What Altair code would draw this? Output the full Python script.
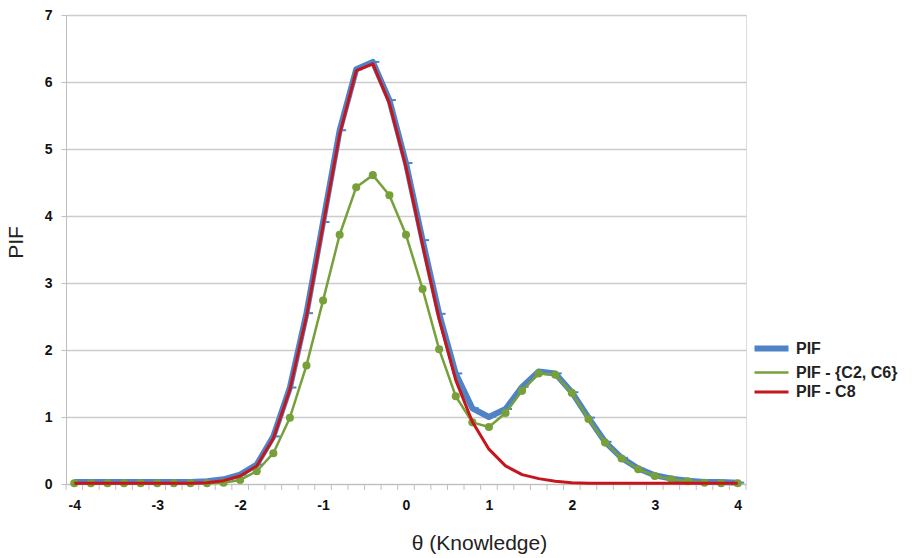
import altair as alt
import pandas as pd

theta = [-4.0, -3.8, -3.6, -3.4, -3.2, -3.0, -2.8, -2.6, -2.4, -2.2, -2.0,
         -1.8, -1.6, -1.4, -1.2, -1.0, -0.8, -0.6, -0.4, -0.2, 0.0,
         0.2, 0.4, 0.6, 0.8, 1.0, 1.2, 1.4, 1.6, 1.8, 2.0,
         2.2, 2.4, 2.6, 2.8, 3.0, 3.2, 3.4, 3.6, 3.8, 4.0]

pif = [0.03, 0.03, 0.03, 0.03, 0.03, 0.03, 0.03, 0.03, 0.04, 0.07, 0.14,
       0.29, 0.71, 1.44, 2.55, 3.91, 5.28, 6.19, 6.30, 5.73, 4.79,
       3.64, 2.54, 1.65, 1.13, 1.00, 1.12, 1.45, 1.68, 1.65, 1.37,
       0.99, 0.63, 0.39, 0.23, 0.13, 0.08, 0.05, 0.03, 0.03, 0.02]

pif_c2c6 = [0.01, 0.01, 0.01, 0.01, 0.01, 0.01, 0.01, 0.01, 0.01, 0.02, 0.06,
            0.19, 0.46, 0.99, 1.77, 2.74, 3.72, 4.43, 4.61, 4.31, 3.72,
            2.91, 2.01, 1.31, 0.92, 0.85, 1.06, 1.39, 1.65, 1.63, 1.36,
            0.97, 0.62, 0.38, 0.22, 0.12, 0.07, 0.04, 0.02, 0.01, 0.01]

pif_c8 = [0.01, 0.01, 0.01, 0.01, 0.01, 0.01, 0.01, 0.01, 0.02, 0.05, 0.12,
          0.27, 0.68, 1.41, 2.50, 3.86, 5.22, 6.17, 6.27, 5.68, 4.73,
          3.57, 2.46, 1.55, 0.93, 0.52, 0.27, 0.14, 0.08, 0.04, 0.02,
          0.01, 0.01, 0.01, 0.01, 0.01, 0.01, 0.01, 0.01, 0.01, 0.01]

series_names = ["PIF", "PIF - {C2, C6}", "PIF - C8"]
series_colors = ["#4f83c6", "#77a03a", "#c4161c"]
series_widths = [6, 2.5, 3]

x_labels = [-4, -3, -2, -1, 0, 1, 2, 3, 4]
y_labels = [0, 1, 2, 3, 4, 5, 6, 7]

rows = []
for name, vals in zip(series_names, [pif, pif_c2c6, pif_c8]):
    for t, v in zip(theta, vals):
        rows.append({"theta": t, "value": v, "series": name})
df = pd.DataFrame(rows)

# category boundaries (tick marks between categories)
step = theta[1] - theta[0]
bounds = pd.DataFrame({"b": [t - step / 2 for t in theta] + [theta[-1] + step / 2]})

W, H = 680, 469

xscale = alt.Scale(domain=[theta[0] - step / 2, theta[-1] + step / 2], nice=False, zero=False)
yscale = alt.Scale(domain=[0, 7], nice=False)

leg = dict(title=None, orient="none", legendX=694, legendY=322,
           symbolType="M-2,0L2,0", symbolSize=289,
           labelFontSize=16, labelFontWeight="bold",
           labelColor="#222222", labelFont="Liberation Sans",
           rowPadding=1.5, labelOffset=13)

color = alt.Color("series:N", scale=alt.Scale(domain=series_names, range=series_colors),
                  legend=alt.Legend(**leg))
swidth = alt.StrokeWidth("series:N",
                         scale=alt.Scale(type="ordinal", domain=series_names, range=series_widths),
                         legend=alt.Legend(**leg))

xenc = alt.X("theta:Q", scale=xscale,
             axis=alt.Axis(values=x_labels, labelExpr="toString(datum.value)", ticks=False, grid=False,
                           domainColor="#bfbfbf",
                           labelFontSize=14, labelFontWeight="bold", labelColor="#111111",
                           labelPadding=14, labelFlush=False,
                           title="θ (Knowledge)", titleFontSize=21, titleFontWeight="normal",
                           titleColor="#222222", titleX=413, titleY=59,
                           titleBaseline="middle", titleAlign="center"))
yenc = alt.Y("value:Q", scale=yscale,
             axis=alt.Axis(values=y_labels, labelExpr="toString(datum.value)", grid=True,
                           gridColor="#cccccc", gridWidth=1.3,
                           tickSize=5, tickColor="#bfbfbf", domainColor="#bfbfbf",
                           labelFontSize=14, labelFontWeight="bold", labelColor="#111111",
                           labelPadding=9,
                           title="PIF", titleFontSize=21, titleFontWeight="normal",
                           titleColor="#222222", titleX=-50, titleY=227,
                           titleBaseline="middle", titleAlign="center", titleAngle=-90))

base = alt.Chart(df)

minor_ticks = alt.Chart(bounds).mark_rule(color="#bfbfbf", strokeWidth=1).encode(
    x=alt.X("b:Q", scale=xscale), y=alt.value(H), y2=alt.value(H + 6))

blue_line = base.transform_filter(alt.datum.series == series_names[0]).mark_line(
    strokeJoin="round").encode(x=xenc, y=yenc, color=color, strokeWidth=swidth)
blue_dash = base.transform_filter(alt.datum.series == series_names[0]).mark_tick(
    orient="horizontal", size=7, thickness=2, xOffset=3, color=series_colors[0], opacity=1).encode(
    x="theta:Q", y="value:Q")
green_line = base.transform_filter(alt.datum.series == series_names[1]).mark_line(
    strokeJoin="round").encode(x="theta:Q", y="value:Q", color=color, strokeWidth=swidth)
green_pts = base.transform_filter(alt.datum.series == series_names[1]).mark_circle(
    size=65, opacity=1).encode(x="theta:Q", y="value:Q", color=color)
red_line = base.transform_filter(alt.datum.series == series_names[2]).mark_line(
    strokeJoin="round").encode(x="theta:Q", y="value:Q", color=color, strokeWidth=swidth)

chart = alt.layer(blue_line, minor_ticks, blue_dash, green_line, green_pts, red_line).properties(
    width=W, height=H,
    autosize=alt.AutoSizeParams(type="none"),
    padding={"left": 66, "top": 15, "right": 170, "bottom": 74},
).configure_view(stroke=None).configure(font="Liberation Sans", background="white")

chart.save("out.html", embed_options={"renderer": "svg", "actions": False})
